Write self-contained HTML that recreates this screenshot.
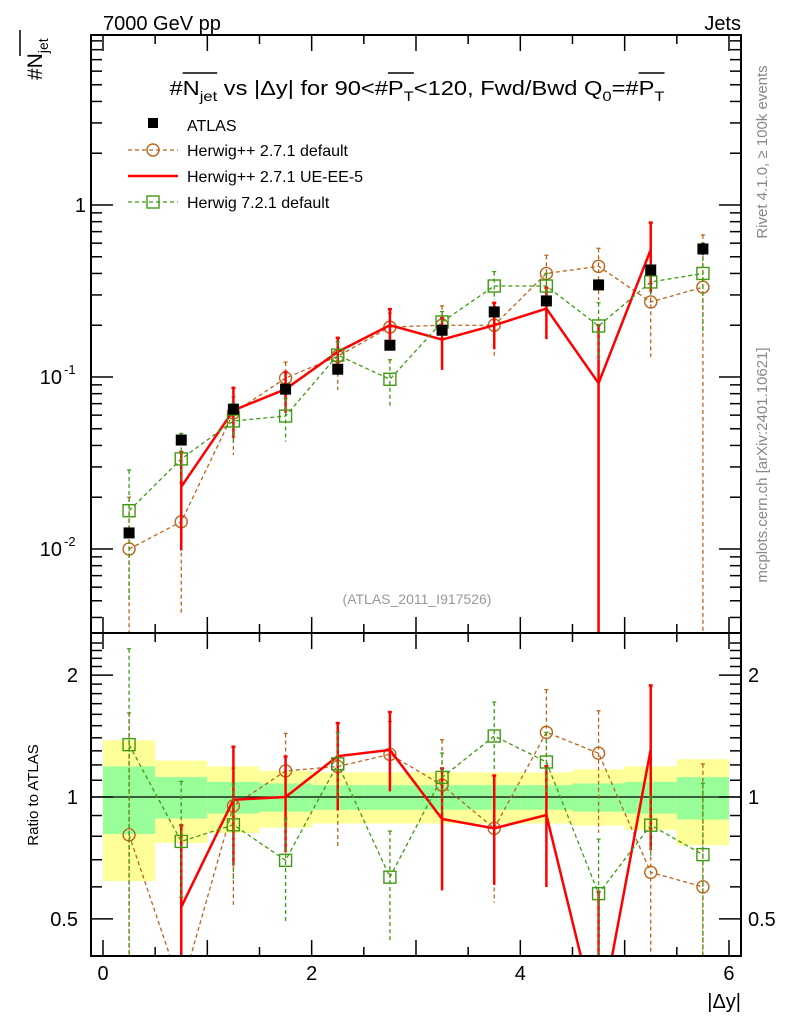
<!DOCTYPE html>
<html><head><meta charset="utf-8"><style>
html,body{margin:0;background:#fff;overflow:hidden;width:786px;height:1024px;}
svg{display:block;font-family:"Liberation Sans",sans-serif;}
</style></head><body>
<svg id="c" width="786" height="1024" viewBox="0 0 786 1024" xmlns="http://www.w3.org/2000/svg">
<defs>
<clipPath id="cm"><rect x="91" y="35" width="650" height="598"/></clipPath>
<clipPath id="cr"><rect x="91" y="633" width="650" height="323"/></clipPath>
</defs>
<g id="bands" clip-path="url(#cr)"></g>
<g id="main" clip-path="url(#cm)"></g>
<g id="ratio" clip-path="url(#cr)"></g>
<g id="axes"></g>
<text x="103" y="30" font-size="20">7000 GeV pp</text>
<text x="741" y="30" font-size="20" text-anchor="end">Jets</text>
<text id="ttl" x="417" y="95" font-size="20" text-anchor="middle" textLength="495" lengthAdjust="spacingAndGlyphs">#<tspan id="t1">N</tspan><tspan id="t1s" font-size="14" dy="6">jet</tspan><tspan dy="-6"> vs |Δy| for 90&lt;#</tspan><tspan id="t2">P</tspan><tspan id="t2s" font-size="14" dy="6">T</tspan><tspan dy="-6">&lt;120, Fwd/Bwd Q</tspan><tspan font-size="14" dy="6">0</tspan><tspan dy="-6">=#</tspan><tspan id="t3">P</tspan><tspan id="t3s" font-size="14" dy="6">T</tspan></text>
<line id="o1" y1="73" y2="73" stroke="#000" stroke-width="1.5"/>
<line id="o2" y1="73" y2="73" stroke="#000" stroke-width="1.5"/>
<line id="o3" y1="73" y2="73" stroke="#000" stroke-width="1.5"/>
<g>
<rect x="148" y="118" width="10" height="10" fill="#000"/>
<text x="187" y="131" font-size="16">ATLAS</text>
<line x1="128" y1="150" x2="178" y2="150" stroke="#b8651b" stroke-width="1.3" stroke-dasharray="4,3"/>
<circle cx="153" cy="150" r="6" fill="none" stroke="#b8651b" stroke-width="1.4"/>
<text x="187" y="156" font-size="16">Herwig++ 2.7.1 default</text>
<line x1="128" y1="176" x2="178" y2="176" stroke="#ff0000" stroke-width="2.5"/>
<text x="187" y="182" font-size="16">Herwig++ 2.7.1 UE-EE-5</text>
<line x1="128" y1="202" x2="178" y2="202" stroke="#3f9a10" stroke-width="1.3" stroke-dasharray="4,3"/>
<rect x="147" y="196" width="12" height="12" fill="none" stroke="#3f9a10" stroke-width="1.4"/>
<text x="187" y="208" font-size="16">Herwig 7.2.1 default</text>
</g>
<text x="417" y="604" font-size="14" fill="#999" text-anchor="middle">(ATLAS_2011_I917526)</text>
<text transform="translate(767,152) rotate(-90)" font-size="15" fill="#888" text-anchor="middle">Rivet 4.1.0, ≥ 100k events</text>
<text transform="translate(767,465) rotate(-90)" font-size="15" fill="#888" text-anchor="middle">mcplots.cern.ch [arXiv:2401.10621]</text>
<text transform="translate(42,80) rotate(-90)" font-size="21">#N<tspan font-size="14" dy="6">jet</tspan></text>
<line x1="20" y1="56" x2="20" y2="30" stroke="#000" stroke-width="1.5"/>
<text transform="translate(38,795) rotate(-90)" font-size="15" text-anchor="middle">Ratio to ATLAS</text>
<text x="741" y="1008" font-size="20" text-anchor="end">|Δy|</text>
</svg>
<script>
const xCenters=[0.25,0.75,1.25,1.75,2.25,2.75,3.25,3.75,4.25,4.75,5.25,5.75];
const atlasVals=[0.0124,0.043,0.065,0.085,0.111,0.153,0.187,0.239,0.277,0.343,0.419,0.555];
const atlasErrFrac=[0.06,0.04,0.04,0.04,0.04,0.04,0.04,0.04,0.04,0.05,0.06,0.08];
const bandTotUp=[1.38,1.23,1.19,1.16,1.15,1.15,1.15,1.15,1.15,1.17,1.19,1.24];
const bandTotDn=[0.62,0.77,0.815,0.84,0.86,0.86,0.86,0.86,0.86,0.85,0.83,0.76];
const bandStatUp=[1.19,1.12,1.09,1.08,1.07,1.07,1.07,1.07,1.07,1.08,1.09,1.12];
const bandStatDn=[0.81,0.885,0.91,0.92,0.93,0.93,0.93,0.93,0.93,0.92,0.91,0.88];
const hppVals=[0.0100,0.0144,0.0618,0.0986,0.132,0.195,0.20,0.20,0.40,0.44,0.273,0.333];
const hppUp=[0.020,0.0243,0.0766,0.122,0.169,0.235,0.259,0.27,0.51,0.56,0.35,0.67];
const hppDn=[0.0005,0.0041,0.0352,0.0706,0.084,0.16,0.16,0.131,0.30,0.28,0.131,0.0005];
const ueX=[0.75,1.25,1.75,2.25,2.75,3.25,3.75,4.25,4.75,5.25];
const ueVals=[0.023,0.064,0.085,0.14,0.2,0.165,0.2,0.25,0.092,0.55];
const ueUp=[0.0366,0.0865,0.107,0.169,0.248,0.22,0.27,0.33,0.2,0.79];
const ueDn=[0.0098,0.044,0.062,0.103,0.158,0.11,0.145,0.166,0.0001,0.31];
const h7Vals=[0.0167,0.0334,0.0555,0.0593,0.134,0.097,0.209,0.338,0.338,0.198,0.357,0.40];
const h7Up=[0.0288,0.047,0.07,0.075,0.16,0.126,0.24,0.41,0.40,0.27,0.42,0.6];
const h7Dn=[0.0049,0.0243,0.04,0.042,0.11,0.067,0.17,0.28,0.28,0.126,0.3,0.176];
const mainTicks=[1,0.1,0.01];
const mainTickLabels=["1","10","10"];
const ratioTicks=[2,1,0.5];
const ratioTickLabels=["2","1","0.5"];
const xTicks=[0,2,4,6];

const NS="http://www.w3.org/2000/svg";
const X=v=>103+v*104.33;
const YM=v=>205-172*Math.log10(v);
const YR=v=>797-405*Math.log10(v);
function mk(par,tag,at){const e=document.createElementNS(NS,tag);for(const k in at)e.setAttribute(k,at[k]);document.getElementById(par).appendChild(e);return e;}

[['t1','t1s','o1'],['t2','t2s','o2'],['t3','t3s','o3']].forEach(a=>{
  try{
    const s=document.getElementById(a[0]).getStartPositionOfChar(0).x;
    const sub=document.getElementById(a[1]);
    const n=sub.getNumberOfChars();
    const e=sub.getEndPositionOfChar(n-1).x;
    const l=document.getElementById(a[2]);
    l.setAttribute('x1',s);l.setAttribute('x2',e);
  }catch(err){}
});

xCenters.forEach((x,i)=>{
  let r=mk('bands','rect',{x:X(x-0.25),y:YR(bandTotUp[i]),width:X(0.5)-X(0),height:YR(bandTotDn[i])-YR(bandTotUp[i]),fill:'#ffff99'});
  
  
  let g=mk('bands','rect',{x:X(x-0.25),y:YR(bandStatUp[i]),width:X(0.5)-X(0),height:YR(bandStatDn[i])-YR(bandStatUp[i]),fill:'#99ff99'});
  
  
});
let one=mk('ratio','line',{x1:91,x2:741,y1:YR(1),y2:YR(1),stroke:'#000','stroke-width':1.3});



function series(par,Y,xs,vals,up,dn,col,w,dash,marker,name,norm){
  const pts=xs.map((x,i)=>[X(x),Y(vals[i]/norm(x))]);
  xs.forEach((x,i)=>{
    const n=norm(x);
    let e=mk(par,'line',{x1:X(x),x2:X(x),y1:Y(up[i]/n),y2:Y(Math.max(dn[i],1e-6)/n),stroke:col,'stroke-width':w,'stroke-dasharray':dash});
    
    
    mk(par,'line',{x1:X(x)-2,x2:X(x)+2,y1:Y(up[i]/n),y2:Y(up[i]/n),stroke:col,'stroke-width':w});
  });
  let p=mk(par,'polyline',{points:pts.map(p=>p.join(',')).join(' '),fill:'none',stroke:col,'stroke-width':w,'stroke-dasharray':dash});
  
  
  pts.forEach(q=>{
    let m;
    if(marker==='c'){m=mk(par,'circle',{cx:q[0],cy:q[1],r:6,fill:'none',stroke:col,'stroke-width':1.4});}
    else if(marker==='s'){m=mk(par,'rect',{x:q[0]-6,y:q[1]-6,width:12,height:12,fill:'none',stroke:col,'stroke-width':1.4});}
    else return;
    
    
  });
}
const idx=x=>xCenters.indexOf(x);
const unit=x=>1;
const byAtlas=x=>atlasVals[idx(x)];
series('main',YM,xCenters,hppVals,hppUp,hppDn,'#b8651b',1.3,'4,3','c','herwigpp-default',unit);
series('main',YM,ueX,ueVals,ueUp,ueDn,'#ff0000',2.5,'','n','herwigpp-ueee5',unit);
series('main',YM,xCenters,h7Vals,h7Up,h7Dn,'#3f9a10',1.3,'4,3','s','herwig7-default',unit);
xCenters.forEach((x,i)=>{
  let e=mk('main','line',{x1:X(x),x2:X(x),y1:YM(atlasVals[i]*(1+atlasErrFrac[i])),y2:YM(atlasVals[i]*(1-atlasErrFrac[i])),stroke:'#000','stroke-width':1.5});
  
  
  let m=mk('main','rect',{x:X(x)-5.5,y:YM(atlasVals[i])-5.5,width:11,height:11,fill:'#000'});
  
  
});
series('ratio',YR,xCenters,hppVals,hppUp,hppDn,'#b8651b',1.3,'4,3','c','herwigpp-default-ratio',byAtlas);
series('ratio',YR,ueX,ueVals,ueUp,ueDn,'#ff0000',2.5,'','n','herwigpp-ueee5-ratio',byAtlas);
series('ratio',YR,xCenters,h7Vals,h7Up,h7Dn,'#3f9a10',1.3,'4,3','s','herwig7-default-ratio',byAtlas);

let fr1=mk('axes','rect',{x:91,y:35,width:650,height:598,fill:'none',stroke:'#000','stroke-width':2});


let fr2=mk('axes','rect',{x:91,y:633,width:650,height:323,fill:'none',stroke:'#000','stroke-width':2});


function tk(x1,y1,x2,y2){mk('axes','line',{x1,y1,x2,y2,stroke:'#000','stroke-width':1.5});}
for(let d=-3;d<=0;d++){for(let k=1;k<=9;k++){const v=k*Math.pow(10,d);const y=YM(v);if(y<35||y>633)continue;const L=k===1?22:11;tk(91,y,91+L,y);tk(741,y,741-L,y);}}
mainTicks.forEach((v,i)=>{
  let t=mk('axes','text',{x:i===0?86:62,y:YM(v)+7,'font-size':20,'text-anchor':'end'});
  t.textContent=mainTickLabels[i];
  
  
  if(i>0){let s=mk('axes','text',{x:64,y:YM(v)-3,'font-size':13});s.textContent='-'+i;
    
    }
});
for(let v=0.4;v<=2.5;v+=0.1){const y=YR(v);if(y<633||y>956)continue;const major=[0.5,1,2].some(m=>Math.abs(m-v)<1e-6);const L=major?22:11;tk(91,y,91+L,y);tk(741,y,741-L,y);}
ratioTicks.forEach((v,i)=>{
  let t=mk('axes','text',{x:78,y:YR(v)+7,'font-size':20,'text-anchor':'end'});
  t.textContent=ratioTickLabels[i];
  
  
  let t2=mk('axes','text',{x:748,y:YR(v)+7,'font-size':20});
  t2.textContent=ratioTickLabels[i];
  
  
});
for(let v=0;v<=6.001;v+=0.5){const x=X(v);const L=Math.abs(v-Math.round(v))<1e-6?16:9;tk(x,633,x,633-L);tk(x,35,x,35+L);tk(x,956,x,956-L);tk(x,633,x,633+L);}
xTicks.forEach(v=>{
  let t=mk('axes','text',{x:X(v),y:980,'font-size':20,'text-anchor':'middle'});
  t.textContent=String(v);
  
  
});
</script>
</body></html>
